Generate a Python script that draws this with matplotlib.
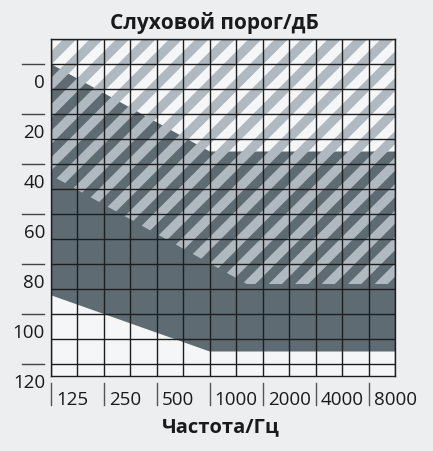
import numpy as np
import matplotlib.pyplot as plt
from matplotlib.patches import Polygon

plt.rcParams['font.family'] = ['Open Sans', 'DejaVu Sans']

# Data (x in octaves above 125 Hz, y in dB)
freq_labels = ["125", "250", "500", "1000", "2000", "4000", "8000"]
db_labels = [0, 20, 40, 60, 80, 100, 120]

# dark region (upper and lower boundaries)
dark_x = [0, 3, 6.5]
dark_top = [-10, 25, 25]
dark_bottom = [82.5, 105, 105]

# hatched region (from top of chart down to this boundary)
hatch_x = [0, 3.7, 6.5]
hatch_bottom = [34.5, 78, 78]

BG = '#eceeef'
WHITE = '#f5f6f7'
DARK = '#5e6b73'
STRIPE = '#b0b9bf'
GRID = '#1e1e1e'

fig = plt.figure(figsize=(4.33, 4.51), dpi=100, facecolor=BG)
ax = fig.add_axes([51/433, 75/451, 344/433, 337/451])
ax.set_facecolor(WHITE)
ax.set_xlim(0, 6.5)
ax.set_ylim(114.8, -20)

# dark polygon
dark_pts = list(zip(dark_x, dark_top)) + list(zip(dark_x[::-1], dark_bottom[::-1]))
ax.add_patch(Polygon(dark_pts, closed=True, facecolor=DARK, edgecolor='none', zorder=1))

# hatched region: diagonal stripes clipped to region
hatch_pts = [(0, -20), (6.5, -20)] + list(zip(hatch_x[::-1], hatch_bottom[::-1]))
clip = Polygon(hatch_pts, closed=True, facecolor='none', edgecolor='none', transform=ax.transData)
ax.add_patch(clip)
k = 21.2        # dB per octave for a 45 degree stripe on screen
period = 0.5 * k
width = period / 2
for c in np.arange(6.2 - 10 * period, 280, period):
    band = [(-1, c + k), (7.5, c - 7.5 * k), (7.5, c + width - 7.5 * k), (-1, c + width + k)]
    p = Polygon(band, closed=True, facecolor=STRIPE, edgecolor='none', zorder=2)
    ax.add_patch(p)
    p.set_clip_path(clip)

# grid
ax.set_xticks(np.arange(0, 6.51, 0.5))
ax.set_yticks(np.arange(-20, 111, 10))
ax.grid(True, color=GRID, lw=1, zorder=3)
ax.set_axisbelow(False)
ax.tick_params(length=0, labelbottom=False, labelleft=False)
for s in ax.spines.values():
    s.set_color(GRID)
    s.set_linewidth(1)
    s.set_zorder(4)

# y labels and short marker lines
ytr = ax.get_yaxis_transform()
for v in db_labels:
    ax.text(-6/344, v - 2.5, str(v), transform=ytr, ha='right', va='center',
            fontsize=13.5, color='#1a1a1a')
for v in range(-10, 111, 20):
    ax.plot([-29/344, -7/344], [v, v], transform=ytr, color='#444444', lw=1, clip_on=False)

# x labels and tick marks
xtr = ax.get_xaxis_transform()
for i, lab in enumerate(freq_labels):
    ax.plot([i, i], [-7/337, -29/337], transform=xtr, color='#555555', lw=1, clip_on=False)
    ax.text(i + 5/53, -24/337, lab, transform=xtr, ha='left', va='center',
            fontsize=13.5, color='#1a1a1a')

fig.text(214.5/433, 1 - 23/451, "Слуховой порог/дБ", ha='center', va='center',
         fontsize=15, fontweight='bold', color='#1a1a1a')
fig.text(221/433, 1 - 427/451, "Частота/Гц", ha='center', va='center',
         fontsize=14.5, fontweight='bold', color='#1a1a1a')

fig.savefig('out.png', dpi=100, facecolor=BG)
